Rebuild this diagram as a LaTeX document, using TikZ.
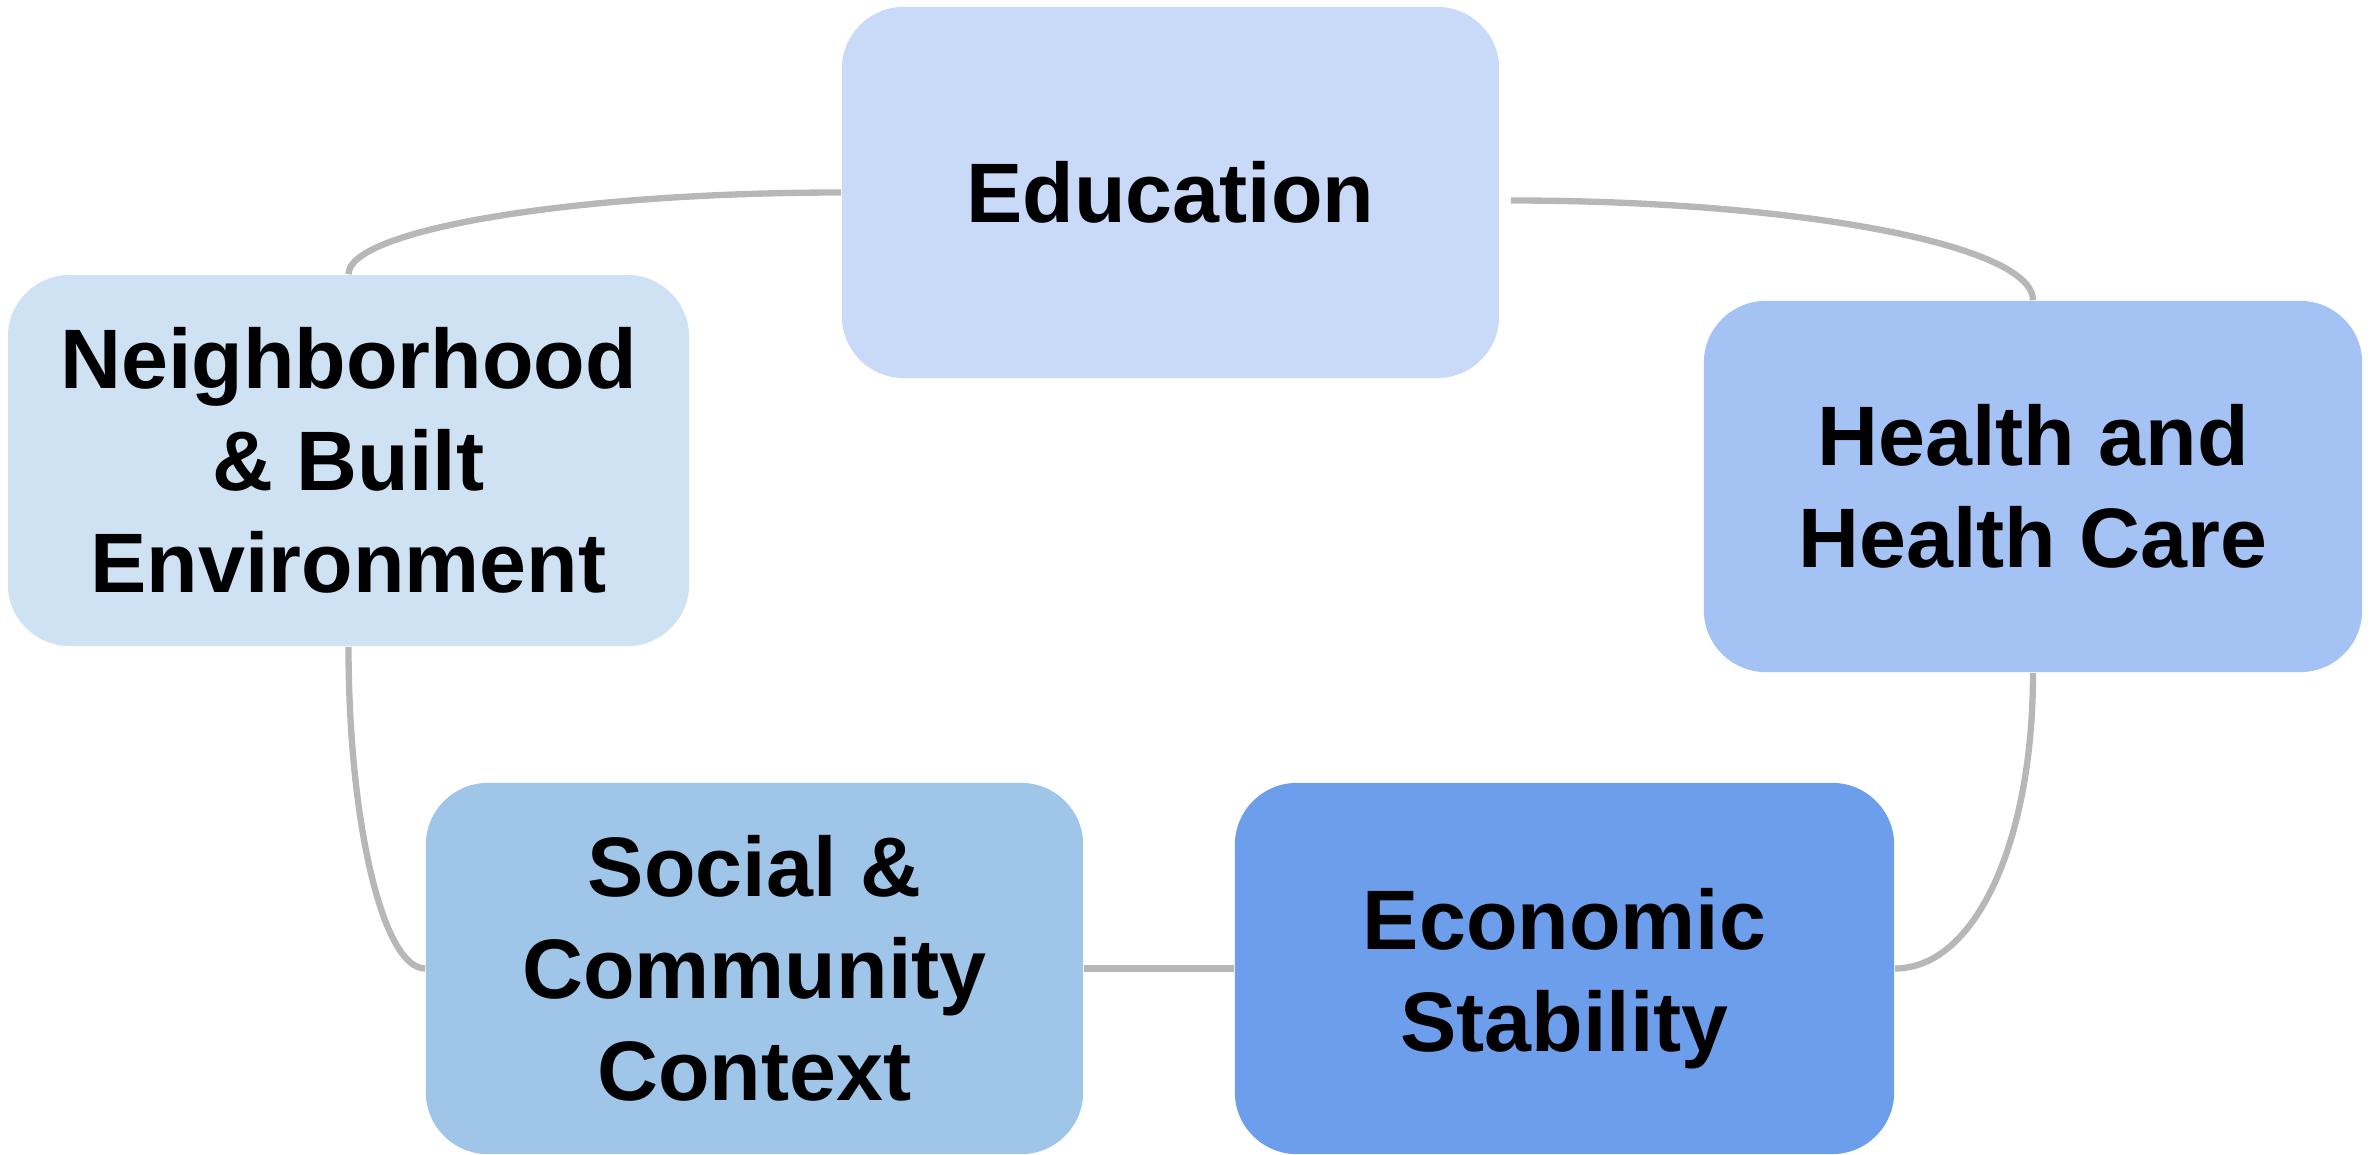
\documentclass[tikz,border=0pt]{standalone}
\usepackage{fontspec}
\setmainfont{Liberation Sans}

\definecolor{edublue}{HTML}{C9DAF8}
\definecolor{nbhblue}{HTML}{CFE2F3}
\definecolor{hltblue}{HTML}{A4C2F4}
\definecolor{socblue}{HTML}{9FC5E8}
\definecolor{ecoblue}{HTML}{6D9EEB}
\definecolor{linkgray}{HTML}{B7B7B7}

\begin{document}
\begin{tikzpicture}[x=0.01cm,y=-0.01cm,
  box/.style={rounded corners=0.62cm, minimum height=3.71cm, inner sep=0pt,
    align=center, font=\fontsize{24}{29}\selectfont\bfseries},
  link/.style={linkgray, line width=1.8pt}]
\useasboundingbox (0,0) rectangle (2379,1155);

% the five boxes
\node[box, fill=edublue, minimum width=6.57cm] (edu) at (1170.5,192.5) {Education};
\node[box, fill=nbhblue, minimum width=6.81cm] (nbh) at (348.5,460.5)
  {Neighborhood\\\& Built\\Environment};
\node[box, fill=hltblue, minimum width=6.58cm] (hlt) at (2033,486.5)
  {Health and\\Health Care};
\node[box, fill=socblue, minimum width=6.57cm] (soc) at (754.5,968.5)
  {Social \&\\Community\\Context};
\node[box, fill=ecoblue, minimum width=6.59cm] (eco) at (1564.5,968.5)
  {\rule{0pt}{23pt}Economic\\Stability};

% connectors
\draw[link] (edu.west) .. controls +(-271,0) and +(0,-44) .. (nbh.north);
\draw[link] ([shift={(11,8)}]edu.east) .. controls +(288,0) and +(0,-55) .. (hlt.north);
\draw[link] (nbh.south) .. controls +(0,176) and +(-42,0) .. (soc.west);
\draw[link] (hlt.south) .. controls +(0,170) and +(80,0) .. (eco.east);
\draw[link] (soc.east) -- (eco.west);

\end{tikzpicture}
\end{document}
